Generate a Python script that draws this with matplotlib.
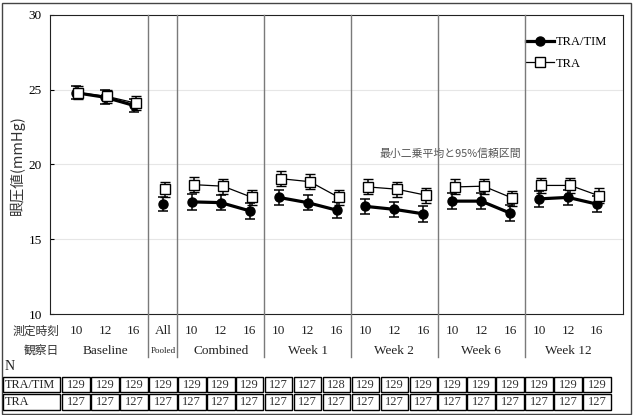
import matplotlib
matplotlib.use("Agg")
import matplotlib.pyplot as plt
from matplotlib.lines import Line2D
from matplotlib.patches import Rectangle

plt.rcParams['font.family'] = ['Liberation Serif', 'Noto Sans CJK JP', 'DejaVu Sans']

# --- data ---
groups = ['Baseline', 'Pooled', 'Combined', 'Week 1', 'Week 2', 'Week 6', 'Week 12']
group_sizes = [3, 1, 3, 3, 3, 3, 3]
times = ['10', '12', '16', 'All', '10', '12', '16', '10', '12', '16',
         '10', '12', '16', '10', '12', '16', '10', '12', '16']

tra_tim = [24.80, 24.50, 23.95, 17.35, 17.50, 17.45, 16.90, 17.80, 17.45, 16.95,
           17.20, 17.00, 16.70, 17.55, 17.55, 16.75, 17.70, 17.80, 17.35]
tra = [24.80, 24.55, 24.10, 18.35, 18.65, 18.55, 17.80, 19.05, 18.85, 17.80,
       18.50, 18.35, 17.95, 18.50, 18.55, 17.75, 18.60, 18.60, 17.90]
tra_tim_ci = [0.45, 0.45, 0.45, 0.45, 0.52, 0.52, 0.52, 0.52, 0.52, 0.52,
              0.52, 0.52, 0.52, 0.52, 0.52, 0.52, 0.52, 0.52, 0.52]
tra_ci = [0.45, 0.45, 0.45, 0.50, 0.50, 0.50, 0.50, 0.50, 0.50, 0.50,
          0.50, 0.50, 0.50, 0.50, 0.50, 0.50, 0.50, 0.50, 0.50]

n_tra_tim = [129, 129, 129, 129, 129, 129, 129, 127, 127, 128,
             129, 129, 129, 129, 129, 129, 129, 129, 129]
n_tra = [127] * 19

W, H = 633, 415
fig = plt.figure(figsize=(W / 100, H / 100), dpi=100)

# main plot area, in pixels: left 50, right 623, top 15, bottom 314
ax = fig.add_axes([50 / W, 1 - 314 / H, 573 / W, 299 / H])
xmin, xmax = -0.9, 18.9
ax.set_xlim(xmin, xmax)
ax.set_ylim(10, 30)
ax.set_yticks([10, 15, 20, 25, 30])
ax.set_xticks([])
ax.tick_params(axis='y', direction='in', length=3, pad=6, labelsize=9.5)
for s in ax.spines.values():
    s.set_linewidth(0.8)
    s.set_color('#222222')
for y in [15, 20, 25]:
    ax.axhline(y, color='#e6e6e6', lw=0.8, zorder=0)

# draw each group separately so lines don't join across groups
offset = 0.08
start = 0
for size in group_sizes:
    idx = list(range(start, start + size))
    xs = [i for i in idx]
    ax.errorbar(xs, [tra_tim[i] for i in idx], yerr=[tra_tim_ci[i] for i in idx],
                color='black', lw=2.3, marker='o', ms=6.5, mfc='black', mec='black',
                ecolor='black', elinewidth=1.1, capsize=3.5, capthick=1.1, zorder=3)
    ax.errorbar([x + offset for x in xs], [tra[i] for i in idx], yerr=[tra_ci[i] for i in idx],
                color='black', lw=0.9, marker='s', ms=6.5, mfc='white', mec='black', mew=1.0,
                ecolor='black', elinewidth=1.1, capsize=3.5, capthick=1.1, zorder=4)
    start += size

handles = [Line2D([], [], color='black', lw=2.3, marker='o', ms=6.5),
           Line2D([], [], color='black', lw=0.9, marker='s', ms=6.5, mfc='white', mew=1.0)]
ax.legend(handles, ['TRA/TIM', 'TRA'], loc='upper left', bbox_to_anchor=(0.822, 0.945),
          frameon=False, fontsize=9, handlelength=2.2, handletextpad=0.2, labelspacing=0.75,
          borderaxespad=0)

ax.text((450 - 50) / 573, 1 - (154 - 15) / 299,
        '最小二乗平均と95%信頼区間', transform=ax.transAxes, ha='center', va='center',
        fontsize=7.8, color='#555555', family=['Noto Sans CJK JP', 'DejaVu Sans'])

# overlay axes: x in data units, y in figure pixels from top
ax2 = fig.add_axes([50 / W, 0, 573 / W, 1], zorder=5)
ax2.set_xlim(xmin, xmax)
ax2.set_ylim(H, 0)
ax2.axis('off')
ax2.patch.set_alpha(0)

# group dividers
bounds = []
pos = 0
for size in group_sizes[:-1]:
    pos += size
    bounds.append(pos - 0.5)
for b in bounds:
    ax2.plot([b, b], [15, 357], color='#7a7a7a', lw=1.0, clip_on=False)

px = (xmax - xmin) / 573  # one pixel in data units
xpix = lambda p: xmin + (p - 50) * px

# measurement time row
ax2.text(xpix(36), 331, '測定時刻', ha='center', va='center', fontsize=8.5,
         family=['Noto Sans CJK JP'], color='#333333')
for i, t in enumerate(times):
    ax2.text(i, 331, t, ha='center', va='center', fontsize=9.5, color='#222222')

# observation day row
ax2.text(xpix(41), 350, '観察日', ha='center', va='center', fontsize=8.5,
         family=['Noto Sans CJK JP'], color='#333333')
start = 0
for g, size in zip(groups, group_sizes):
    c = start + (size - 1) / 2
    ax2.text(c, 351, g, ha='center', va='center', fontsize=6.5 if g == 'Pooled' else 9.5,
             color='#222222')
    start += size

ax2.text(xpix(5), 366, 'N', ha='left', va='center', fontsize=10, color='#222222')

# N table
rows = [('TRA/TIM', n_tra_tim, 376, 393), ('TRA', n_tra, 393, 411)]
first_left = xpix(3)
for label, vals, top, bot in rows:
    ax2.add_patch(Rectangle((first_left, top + 0.7), (-0.5 - first_left) - 1.4 * px, bot - top - 1.4,
                            fill=False, ec='black', lw=1.0, clip_on=False))
    ax2.text(first_left + 2 * px, (top + bot) / 2, label, ha='left', va='center',
             fontsize=8.8, color='#222222')
    for i, v in enumerate(vals):
        ax2.add_patch(Rectangle((i - 0.5 + 0.7 * px, top + 0.7), 1 - 1.4 * px, bot - top - 1.4,
                                fill=False, ec='black', lw=1.0, clip_on=False))
        ax2.text(i, (top + bot) / 2, str(v), ha='center', va='center', fontsize=9,
                 color='#333333')

# y label
fig.text(17 / W, 1 - 165 / H, '眼圧値(mmHg)', rotation=90, ha='center', va='center',
         fontsize=10.5, color='#333333', family=['Noto Sans CJK JP', 'Liberation Serif'])

# outer frame
fig.patches.append(Rectangle((2 / W, 1 / H), 629 / W, 411 / H, transform=fig.transFigure,
                             fill=False, ec='#444444', lw=1.0))

fig.savefig('out.png', dpi=100)
